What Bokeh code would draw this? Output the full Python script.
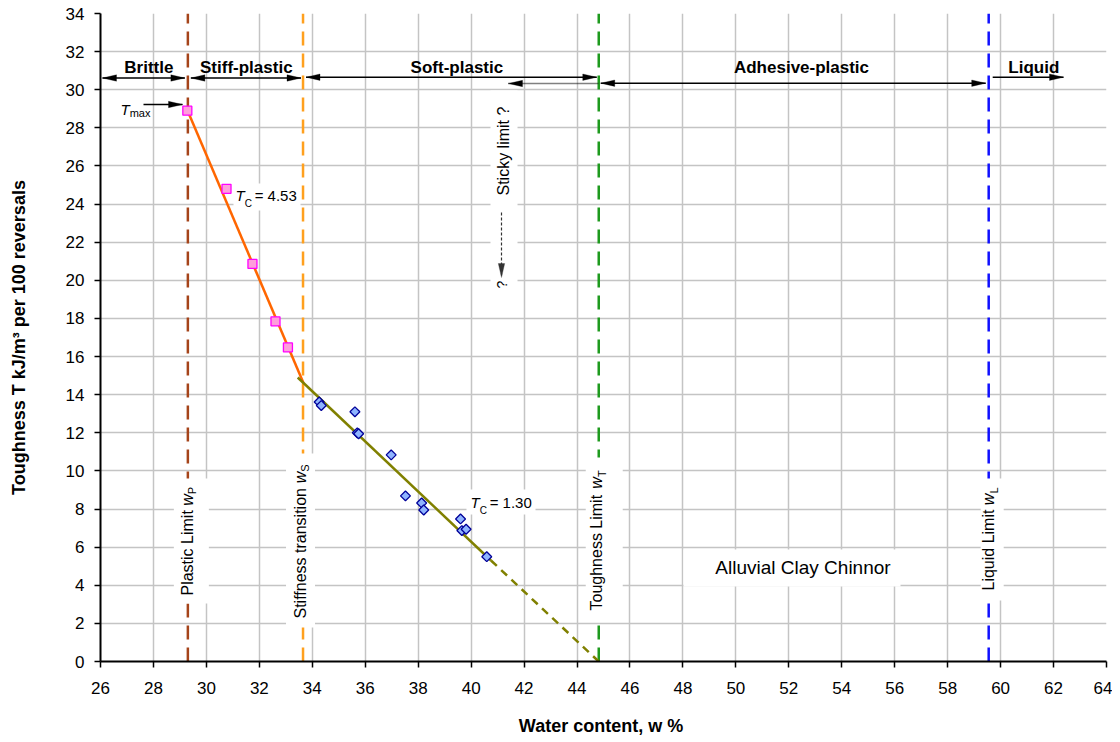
from math import pi, hypot
from bokeh.plotting import figure
from bokeh.models import Label, BoxAnnotation, Arrow, PolyAnnotation, FixedTicker
from bokeh.embed import file_html
from bokeh.resources import INLINE

# ---------------- data ----------------
limit_names = ["Plastic Limit", "Stiffness transition", "Toughness Limit", "Liquid Limit"]
limit_subs = ["P", "S", "T", "L"]
limit_w = [29.3, 33.65, 44.82, 59.55]
limit_colors = ["#a5441a", "#ffa01e", "#1e9a1e", "#1010ff"]

stiff_w = [29.28, 30.76, 31.74, 32.61, 33.08]
stiff_T = [28.9, 24.8, 20.86, 17.85, 16.48]
soft_w = [34.26, 34.34, 35.61, 35.70, 35.75, 36.98, 37.52, 38.13, 38.21, 39.60, 39.65, 39.81, 40.59]
soft_T = [13.62, 13.43, 13.10, 12.00, 11.95, 10.84, 8.69, 8.32, 7.95, 7.48, 6.87, 6.94, 5.50]

stiff_fit_w = [29.23, 33.67]
stiff_fit_T = [29.1, 14.6]
soft_fit_w = [33.45, 40.75]
soft_fit_T = [14.9, 5.3]
soft_ext_w = [40.75, 44.82]
soft_ext_T = [5.3, 0.0]

zones = ["Brittle", "Stiff-plastic", "Soft-plastic", "Adhesive-plastic", "Liquid"]
tc_values = ["4.53", "1.30"]
x_ticks = list(range(26, 65, 2))
y_ticks = list(range(0, 35, 2))
x_title = "Water content, w  %"
y_title = "Toughness T kJ/m\u00b3 per 100 reversals"

# ---------------- layout helpers ----------------
FONT = "Liberation Sans"
X0, XS = 100.0, 1006.0 / 38.0
Y0, YS = 661.0, 648.0 / 34.0


def xd(px):
    return 26 + (px - X0) / XS


def yd(py):
    return (Y0 - py) / YS


def px(x):
    return X0 + (x - 26) * XS


def py(y):
    return Y0 - y * YS


R = {' ': 278, 'a': 556, 'b': 556, 'c': 500, 'd': 556, 'e': 556, 'f': 278, 'g': 556, 'h': 556,
     'i': 222, 'k': 500, 'l': 222, 'm': 833, 'n': 556, 'o': 556, 'p': 556, 'q': 556, 'r': 333,
     's': 500, 't': 278, 'u': 556, 'v': 500, 'w': 722, 'x': 500, 'y': 500, 'A': 667, 'C': 722,
     'L': 556, 'P': 667, 'S': 667, 'T': 611, '?': 556, '=': 584, '.': 278}
for d in "0123456789":
    R[d] = 556


def tw(s, size):
    return sum(R.get(ch, 556) for ch in s) * size / 1000.0


p = figure(frame_width=1006, frame_height=648, min_border_left=100, min_border_right=6,
           min_border_top=13, min_border_bottom=80, x_range=(26, 64), y_range=(0, 34),
           output_backend="svg", toolbar_location=None, background_fill_color="white",
           border_fill_color="white", outline_line_color=None)

p.xaxis.ticker = FixedTicker(ticks=x_ticks)
p.yaxis.ticker = FixedTicker(ticks=y_ticks)
for ax in (p.xaxis, p.yaxis):
    ax.axis_line_width = 2
    ax.axis_line_color = "black"
    ax.major_tick_line_color = "black"
    ax.major_tick_line_width = 1.5
    ax.major_tick_out = 6
    ax.major_tick_in = 0
    ax.minor_tick_line_color = None
    ax.major_label_text_font = FONT
    ax.major_label_text_font_size = "17px"
    ax.major_label_text_color = "black"
    ax.axis_label_text_font = FONT
    ax.axis_label_text_font_size = "18px"
    ax.axis_label_text_font_style = "bold"
    ax.axis_label_text_color = "black"
p.xaxis.major_label_standoff = 14
p.yaxis.major_label_standoff = 10
p.xaxis.axis_label = x_title
p.yaxis.axis_label = y_title
p.xaxis.axis_label_standoff = 19
p.yaxis.axis_label_standoff = 34
p.grid.grid_line_color = "#c4c4c4"
p.grid.grid_line_width = 1.5

# vertical limit lines
p.segment(x0=limit_w, y0=[0] * 4, x1=limit_w, y1=[34] * 4, line_color=limit_colors,
          line_width=2.5, line_dash="14 8")

# fits
p.line(stiff_fit_w, stiff_fit_T, line_color="#ff6600", line_width=2.5)
p.line(soft_fit_w, soft_fit_T, line_color="#808000", line_width=2.5)
p.line(soft_ext_w, soft_ext_T, line_color="#808000", line_width=2.5, line_dash="8 6")

# points
p.scatter(stiff_w, stiff_T, marker="square", size=9, fill_color="#ff9edb",
          line_color="#ff00ff", line_width=1.3)
p.scatter(soft_w, soft_T, marker="square", angle=pi / 4, size=7, fill_color="#8fb4ff",
          line_color="#000099", line_width=1.3)


# white text boxes (page px)
def wbox(x0, x1, y0, y1):
    p.add_layout(BoxAnnotation(left=xd(x0), right=xd(x1), top=yd(y0), bottom=yd(y1),
                               fill_color="white", fill_alpha=1.0, line_color=None))


lp = [px(w) for w in limit_w]
wbox(lp[0] - 14, lp[0] + 21, 478, 603)
wbox(lp[1] - 17, lp[1] + 12, 453, 627)
wbox(lp[2] - 13, lp[2] + 24, 457, 618)
wbox(lp[3] - 8, lp[3] + 15, 478, 600)
wbox(490, 517, 90, 292)
wbox(233, 300, 183, 210)
wbox(466, 535, 489, 514)
wbox(683, 900, 549, 586)

BSHIFT = 0.33  # renderer puts the alphabetic baseline lower; compensate (fraction of size)


def text(s, xp, yp, size, style="normal", angle=0.0, align="left"):
    if angle:
        xp -= BSHIFT * size
    else:
        yp -= BSHIFT * size
    p.add_layout(Label(x=xd(xp), y=yd(yp), text=s, text_font=FONT,
                       text_font_size=f"{size}px", text_font_style=style, angle=angle,
                       text_align=align, text_baseline="alphabetic", text_color="black"))


def vtext(pieces, base_px, start_py):
    cur = start_py
    for s, size, style, shift in pieces:
        text(s.rstrip(), base_px + shift, cur, size, style, angle=pi / 2)
        cur -= tw(s, size)


def htext(pieces, start_px, base_py):
    cur = start_px
    for s, size, style, shift in pieces:
        text(s.rstrip(), cur, base_py + shift, size, style)
        cur += tw(s, size)


def head(tx, ty, ux, uy, color):
    L, W = 14.0, 3.2
    bx, by = tx - L * ux, ty - L * uy
    nx, ny = -uy, ux
    xs = [tx, bx + W * nx, bx - W * nx]
    ys = [ty, by + W * ny, by - W * ny]
    p.add_layout(PolyAnnotation(xs=[xd(v) for v in xs], ys=[yd(v) for v in ys],
                                fill_color=color, fill_alpha=1.0, line_color=color,
                                line_width=1))


def arrow(x0p, y0p, x1p, y1p, start=False, end=True, dash="solid", color="black", width=1.5):
    p.add_layout(Arrow(x_start=xd(x0p), y_start=yd(y0p), x_end=xd(x1p), y_end=yd(y1p),
                       start=None, end=None, line_color=color, line_width=width,
                       line_dash=dash))
    ln = hypot(x1p - x0p, y1p - y0p)
    ux, uy = (x1p - x0p) / ln, (y1p - y0p) / ln
    if end:
        head(x1p, y1p, ux, uy, color)
    if start:
        head(x0p, y0p, -ux, -uy, color)


# zone arrows
arrow(102, 77.5, lp[0] - 3, 77.5, start=True)
arrow(lp[0] + 3, 77.5, lp[1] - 2, 77.5, start=True)
arrow(lp[1] + 3, 76.7, lp[2] - 2, 76.7, start=True)
arrow(508, 83, lp[2], 83, start=True, end=False, dash="1 1")
arrow(lp[2] + 2, 82.7, lp[3] - 3, 82.7, start=True)
arrow(lp[3] + 4, 76.7, 1063, 76.7)
arrow(143, 104, 182, 104)
arrow(501, 212, 501, 277, dash="3 2", color="#333333", width=1.2)

# zone labels
zone_px = [148.4, 245.8, 456.4, 801.0, 1033.3]
for z, zx in zip(zones, zone_px):
    text(z, zx, 72.5, 17, "bold", align="center")

# limit labels (rotated)
limit_base = [lp[0] + 4.5, lp[1] + 2.5, lp[2] + 3.5, lp[3] + 5.5]
limit_start = [595, 618, 610, 590]
for name, sub, bx, sy in zip(limit_names, limit_subs, limit_base, limit_start):
    vtext([(name + " ", 16, "normal", 0), ("w", 16, "italic", 0), (sub, 11, "normal", 3.5)],
          bx, sy)

# sticky limit
vtext([("Sticky limit ?", 16, "normal", 0)], 508, 195)
vtext([("?", 14, "normal", 0)], 506, 288)

# T max
htext([("T", 15, "italic", 0), ("max", 11, "normal", 2.5)], 120, 113.5)

# Tc labels
tc_pos = [(235, 200), (470, 506.5)]
for val, (tx, ty) in zip(tc_values, tc_pos):
    htext([("T", 15, "italic", 0), ("C ", 10, "normal", 6.5), ("= " + val, 15, "normal", 0)],
          tx, ty)

# sample name
text("Alluvial Clay Chinnor", 802.5, 573, 19, "normal", align="center")

open("out.html", "w").write(file_html(p, INLINE))
